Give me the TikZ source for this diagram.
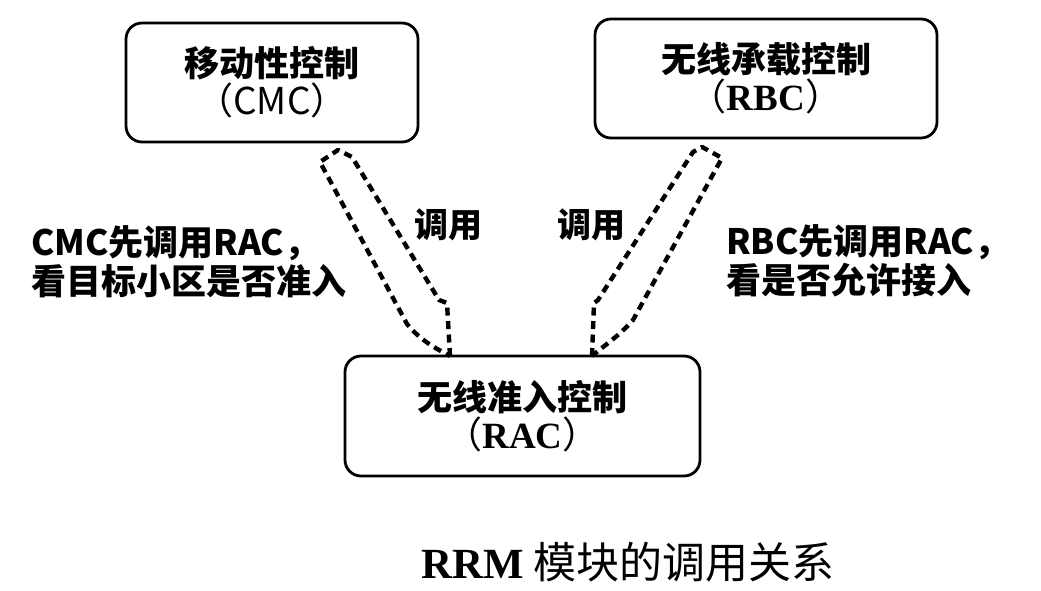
\documentclass[tikz,border=0pt]{standalone}
\usepackage{fontspec}
\newfontfamily\hei{Noto Sans CJK SC}
\newfontfamily\lserif{Liberation Serif}
\begin{document}
\begin{tikzpicture}[x=1pt,y=-1pt,
  box/.style={draw=black,line width=2.8pt,rounded corners=16pt,inner sep=0pt,align=center,
    font=\hei\bfseries\fontsize{35}{38}\selectfont},
  lbl/.style={inner sep=0pt,align=left,font=\hei\bfseries\fontsize{35}{39.5}\selectfont},
  calllbl/.style={inner sep=0pt,font=\hei\bfseries\fontsize{34}{38}\selectfont},
  dasharrow/.style={draw=black,line width=4.4pt,dash pattern=on 8pt off 5.5pt,line join=round}]
\useasboundingbox (0,0) rectangle (1041,591);
\fill[white] (0,0) rectangle (1041,591);
\node[box,minimum width=292pt,minimum height=119pt] (cmc) at (272,82.5)
  {移动性控制\\{\mdseries\fontsize{37}{38}\selectfont （CMC）}};
\node[box,minimum width=342pt,minimum height=119pt] (rbc) at (766,78.5)
  {无线承载控制\\{\mdseries\fontsize{37}{38}\selectfont （{\lserif\bfseries RBC}）}};
\node[box,minimum width=355pt,minimum height=120pt] (rac) at (522.5,416)
  {无线准入控制\\{\mdseries\fontsize{37}{38}\selectfont （{\lserif\bfseries RAC}）}};
\coordinate (tipL) at (450,356);
\coordinate (tipR) at (592,356);
\draw[dasharrow] (tipL) -- (447,303) -- (439,300) -- (352,157) -- (338,150) -- (320,162)
  -- (407,324) .. controls (420,340) and (435,348) .. (tipL);
\draw[dasharrow] (tipR) -- (594,303) -- (598,300) -- (693,152) -- (702,147) -- (722,158)
  -- (633,320) .. controls (620,335) and (605,345) .. (tipR);
\node[calllbl] (callL) at (448,225) {调用};
\node[calllbl] (callR) at (591,225) {调用};
\node[lbl,anchor=west] (noteL) at (31,262) {CMC先调用RAC，\\看目标小区是否准入};
\node[lbl,anchor=west] (noteR) at (726,261) {RBC先调用RAC，\\看是否允许接入};
\node[inner sep=0pt,font=\hei\fontsize{43}{46}\selectfont] (cap) at (628,562)
  {{\lserif\bfseries RRM} 模块的调用关系};
\end{tikzpicture}
\end{document}
